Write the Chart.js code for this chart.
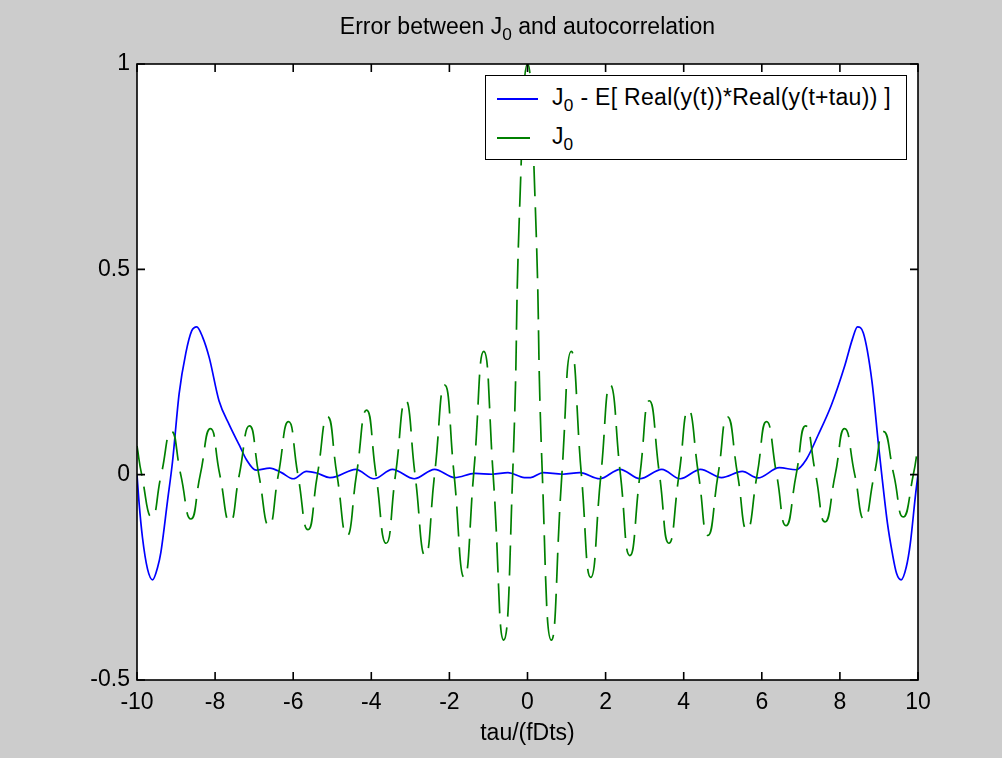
<!DOCTYPE html>
<html>
<head>
<meta charset="utf-8">
<script src="https://cdn.jsdelivr.net/npm/chart.js@4.4.1/dist/chart.umd.min.js"></script>
<style>
    body { margin: 0; background: #cccccc; }
    #wrap { position: relative; width: 1002px; height: 758px; font-family: "Liberation Sans", Arial, sans-serif; color: #000; }
    #plot { position: absolute; left: 0; top: 0; }
    .txt { position: absolute; font-size: 23px; line-height: 30px; white-space: nowrap; }
    .txt sub { font-size: 0.75em; vertical-align: -0.35em; line-height: 0; }
    #title { left: 0; width: 1055px; top: 11px; text-align: center; }
    #xlabel { left: 0; width: 1055px; top: 717px; text-align: center; }
    #legend { position: absolute; left: 485px; top: 75px; width: 420px; height: 83px; background: #fff; border: 1.5px solid #000; }
    .swatch { position: absolute; left: 11px; height: 0; }
</style>
</head>
<body>
<div id="wrap">
    <canvas id="plot" width="1002" height="758"></canvas>
    <div id="title" class="txt">Error between J<sub>0</sub> and autocorrelation</div>
    <div id="xlabel" class="txt">tau/(fDts)</div>
    <div id="legend">
        <div class="swatch" style="top:22px;width:41px;border-top:2px solid #0000ff"></div>
        <div class="txt" style="left:66px;top:6px;letter-spacing:0.3px">J<sub>0</sub> - E[ Real(y(t))*Real(y(t+tau)) ]</div>
        <div class="swatch" style="top:61px;width:33px;border-top:2px solid #008000"></div>
        <div class="txt" style="left:66px;top:45px">J<sub>0</sub></div>
    </div>
</div>
<script>
// values
const X_TICKS = [-10, -8, -6, -4, -2, 0, 2, 4, 6, 8, 10];
const Y_TICKS = [-0.5, 0, 0.5, 1];

// J0 - E[ Real(y(t))*Real(y(t+tau)) ]  (blue, solid)
const tauErr = [-10, -9.95, -9.86, -9.73, -9.6, -9.47, -9.39, -9.22, -9.09, -8.92, -8.75, -8.6, -8.47, -8.32, -8.15, -7.9, -7.63, -7.37, -7.2, -6.95,
    -6.6, -6.3, -6.0, -5.66, -5.4, -5.06, -4.88, -4.4, -3.93, -3.46, -2.9, -2.38, -1.86, -1.35, -0.9, -0.5, -0.08,
    0.08, 0.4, 0.9, 1.34, 1.85, 2.37, 2.88, 3.44, 3.91, 4.43, 4.97, 5.5, 5.9, 6.45, 6.88, 7.14, 7.44, 7.78, 8.13,
    8.32, 8.45, 8.6, 8.82, 8.99, 9.08, 9.22, 9.34, 9.45, 9.57, 9.7, 9.8, 9.94, 10];
const errVals = [0, -0.065, -0.153, -0.23, -0.256, -0.225, -0.19, -0.065, 0.032, 0.198, 0.296, 0.35, 0.36, 0.335, 0.285, 0.18, 0.12, 0.07, 0.037, 0.011,
    0.016, 0.005, -0.01, 0.008, 0.004, -0.007, -0.004, 0.013, -0.01, 0.013, -0.01, 0.013, -0.007, 0.003, 0.001, 0.005, -0.007,
    -0.007, 0.005, 0.001, 0.005, -0.01, 0.013, -0.01, 0.013, -0.01, 0.013, -0.007, 0.008, -0.008, 0.017, 0.012, 0.037, 0.096, 0.169, 0.267,
    0.33, 0.36, 0.345, 0.228, 0.071, -0.007, -0.12, -0.19, -0.24, -0.256, -0.225, -0.17, -0.046, 0];

// J0 (green, dashed): extrema and zero crossings
const tauJ0 = [-10, -9.88, -9.62, -9.38, -9.12, -8.88, -8.62, -8.38, -8.12, -7.88, -7.62, -7.38, -7.12, -6.88, -6.62, -6.38, -6.12, -5.88,
    -5.62, -5.38, -5.12, -4.88, -4.62, -4.38, -4.12, -3.88, -3.62, -3.38, -3.12, -2.88, -2.62, -2.38, -2.12, -1.88, -1.62, -1.38,
    -1.12, -0.88, -0.61, -0.38, -0.19, 0, 0.19, 0.38, 0.61, 0.88, 1.12, 1.38, 1.62, 1.88, 2.12, 2.38, 2.62, 2.88, 3.12, 3.38,
    3.62, 3.88, 4.12, 4.38, 4.62, 4.88, 5.12, 5.38, 5.62, 5.88, 6.12, 6.38, 6.62, 6.88, 7.12, 7.38, 7.62, 7.88, 8.12, 8.38,
    8.62, 8.88, 9.12, 9.38, 9.62, 9.88, 10];
const j0Vals = [0.07, 0, -0.103, 0, 0.105, 0, -0.108, 0, 0.112, 0, -0.115, 0, 0.119, 0, -0.124, 0, 0.129, 0,
    -0.134, 0, 0.141, 0, -0.148, 0, 0.157, 0, -0.167, 0, 0.18, 0, -0.197, 0, 0.218, 0, -0.25, 0,
    0.3, 0, -0.403, 0, 0.68, 1, 0.68, 0, -0.403, 0, 0.3, 0, -0.25, 0, 0.218, 0, -0.197, 0, 0.18, 0,
    -0.167, 0, 0.157, 0, -0.148, 0, 0.141, 0, -0.134, 0, 0.129, 0, -0.124, 0, 0.119, 0, -0.115, 0, 0.112, 0,
    -0.108, 0, 0.105, 0, -0.103, 0, 0.07];

const FONT = {family: '"Liberation Sans", Arial, sans-serif', size: 23};

function toPoints(xs, ys) {
    let pts = [];
    for (let i = 0; i < xs.length; i++) {
        pts.push({x: xs[i], y: ys[i]});
    }
    return pts;
}

// white axes area, black box and inward ticks on all four sides (matlab style)
const matlabAxes = {
    id: 'matlabAxes',
    beforeDatasetsDraw(chart) {
        let a = chart.chartArea;
        let ctx = chart.ctx;
        ctx.save();
        ctx.fillStyle = '#ffffff';
        ctx.fillRect(a.left, a.top, a.right - a.left, a.bottom - a.top);
        ctx.restore();
    },
    afterDraw(chart) {
        let a = chart.chartArea;
        let ctx = chart.ctx;
        let len = 8;
        ctx.save();
        ctx.strokeStyle = '#000000';
        ctx.lineWidth = 1.6;
        ctx.strokeRect(a.left, a.top, a.right - a.left, a.bottom - a.top);
        ctx.beginPath();
        for (let v of X_TICKS) {
            let px = chart.scales.x.getPixelForValue(v);
            ctx.moveTo(px, a.bottom); ctx.lineTo(px, a.bottom - len);
            ctx.moveTo(px, a.top); ctx.lineTo(px, a.top + len);
        }
        for (let v of Y_TICKS) {
            let py = chart.scales.y.getPixelForValue(v);
            ctx.moveTo(a.left, py); ctx.lineTo(a.left + len, py);
            ctx.moveTo(a.right, py); ctx.lineTo(a.right - len, py);
        }
        ctx.stroke();
        ctx.restore();
    }
};

new Chart(document.getElementById('plot'), {
    type: 'line',
    data: {
        datasets: [{
            label: 'J0 - E[ Real(y(t))*Real(y(t+tau)) ]',
            data: toPoints(tauErr, errVals),
            borderColor: '#0000ff',
            borderWidth: 1.7,
            pointRadius: 0,
            cubicInterpolationMode: 'monotone',
            fill: false,
            order: 1
        }, {
            label: 'J0',
            data: toPoints(tauJ0, j0Vals),
            borderColor: '#008000',
            borderWidth: 1.7,
            borderDash: [30, 11],
            pointRadius: 0,
            tension: 0.55,
            fill: false,
            order: 0
        }]
    },
    options: {
        responsive: false,
        animation: false,
        events: [],
        layout: {padding: {left: 0, right: 84, top: 64, bottom: 0}},
        plugins: {
            legend: {display: false},
            title: {display: false},
            tooltip: {enabled: false}
        },
        scales: {
            x: {
                type: 'linear',
                min: -10,
                max: 10,
                afterBuildTicks: (s) => { s.ticks = X_TICKS.map(v => ({value: v})); },
                afterFit: (s) => { s.height = 78; },
                grid: {display: false, drawTicks: false},
                border: {display: false},
                ticks: {color: '#000', font: FONT, padding: 9, maxRotation: 0, autoSkip: false,
                    callback: (v) => String(v)}
            },
            y: {
                type: 'linear',
                min: -0.5,
                max: 1,
                afterBuildTicks: (s) => { s.ticks = Y_TICKS.map(v => ({value: v})); },
                afterFit: (s) => { s.width = 137; },
                grid: {display: false, drawTicks: false},
                border: {display: false},
                ticks: {color: '#000', font: FONT, padding: 7,
                    callback: (v) => String(v)}
            }
        }
    },
    plugins: [matlabAxes]
});
</script>
</body>
</html>
